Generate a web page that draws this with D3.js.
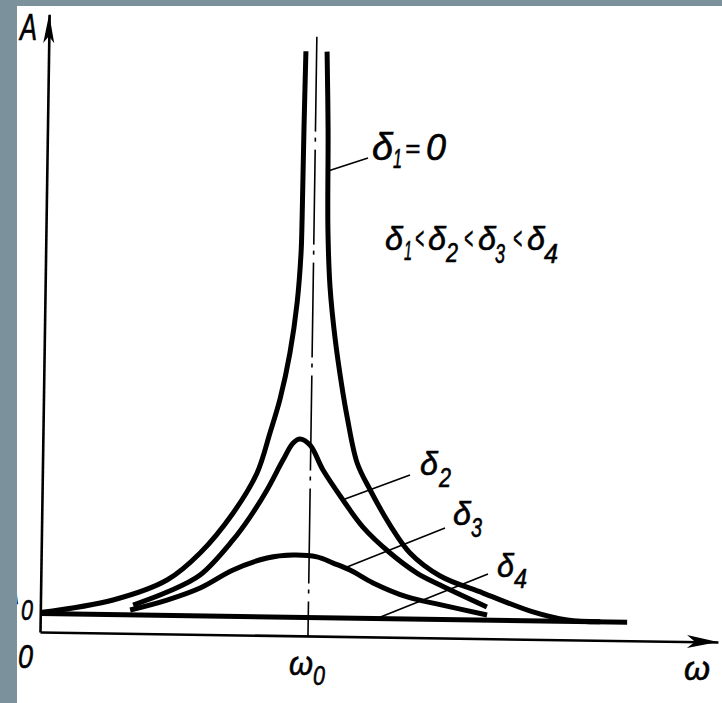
<!DOCTYPE html>
<html lang="en">
<head>
<meta charset="utf-8">
<title>Resonance curves</title>
<script src="https://d3js.org/d3.v7.min.js"></script>
<style>
  html, body { margin: 0; padding: 0; background: #fff; }
  svg { display: block; }
  text { font-family: "Liberation Sans", Arial, sans-serif; font-style: italic; fill: #000; stroke: #000; stroke-width: 0.6; }
</style>
</head>
<body>
<div id="viz"></div>
<script>
// omega in units of omega0, A in units of A0
const delta1Left = [[0, 1.05], [0.271, 1.79], [0.471, 2.91], [0.593, 4.40], [0.714, 6.59], [0.801, 8.77],
  [0.847, 10.94], [0.883, 12.8], [0.917, 15.28], [0.941, 17.99], [0.953, 20.7], [0.955, 22.5],
  [0.957, 27.35], [0.960, 31.6]];
const delta1Right = [[1.039, 31.6], [1.047, 27.4], [1.052, 21.96], [1.063, 18.88], [1.084, 16.18],
  [1.113, 13.49], [1.134, 11.87], [1.174, 9.39], [1.224, 7.94], [1.300, 6.06], [1.376, 4.57],
  [1.490, 3.35], [1.651, 2.46], [1.838, 1.48], [1.966, 1.07], [2.09, 1.0]];
const delta2 = [[0.346, 1.53], [0.472, 2.26], [0.594, 3.21], [0.715, 5.13], [0.777, 6.38], [0.839, 7.86],
  [0.897, 9.49], [0.934, 10.42], [0.959, 10.64], [0.997, 10.32], [1.047, 8.98], [1.123, 7.38],
  [1.199, 5.93], [1.302, 4.55], [1.403, 3.49], [1.490, 2.86], [1.666, 1.71]];
const delta3 = [[0.335, 1.26], [0.472, 1.83], [0.595, 2.51], [0.717, 3.51], [0.843, 4.18], [0.940, 4.36],
  [1.029, 4.28], [1.090, 3.96], [1.153, 3.60], [1.240, 2.92], [1.368, 2.19], [1.491, 1.80], [1.667, 1.28]];
const delta4 = [[0, 1], [2.19, 1]];
const omega0 = 1;
const omegaMax = 2.53;
const aMax = 33.4;

const width = 722, height = 703;
const svg = d3.select("#viz").append("svg")
  .attr("width", width).attr("height", height);

svg.append("rect").attr("width", width).attr("height", height).attr("fill", "#fff");

const x = d3.scaleLinear().domain([0, omegaMax]).range([0, omegaMax * 268]);
const y = d3.scaleLinear().domain([0, aMax]).range([0, -aMax * 18.5]);

// the scan is turned slightly, so the plot group is too
const g = svg.append("g").attr("transform", "translate(40,632) rotate(0.85)");

// axes (no ticks)
g.append("g").attr("class", "x axis")
  .call(d3.axisBottom(x).tickValues([]).tickSizeOuter(0))
  .select(".domain").attr("stroke", "#000").attr("stroke-width", 2.6);
g.append("g").attr("class", "y axis")
  .call(d3.axisLeft(y).tickValues([]).tickSizeOuter(0))
  .select(".domain").attr("stroke", "#000").attr("stroke-width", 2.6);

// arrowheads
const xt = x(omegaMax), yt = y(aMax);
g.append("path")
  .attr("d", `M${xt},0 L${xt - 31},-6.5 L${xt - 23},0 L${xt - 31},6.5 Z`)
  .attr("fill", "#000");
g.append("path")
  .attr("d", `M0,${yt} L-5.5,${yt + 29} L0,${yt + 22} L5.5,${yt + 29} Z`)
  .attr("fill", "#000");

// dash-dot line at omega0
g.append("path")
  .attr("d", d3.line().x(d => x(d[0])).y(d => y(d[1]))([[omega0, 32.4], [omega0, 0]]))
  .attr("fill", "none").attr("stroke", "#000").attr("stroke-width", 1.6)
  .attr("stroke-dasharray", "95,6,4,8");

const line = d3.line()
  .x(d => x(d[0]))
  .y(d => y(d[1]))
  .curve(d3.curveCatmullRom.alpha(0.5));

g.selectAll("path.curve")
  .data([delta4, delta1Left, delta1Right, delta2, delta3])
  .enter().append("path")
  .attr("class", "curve")
  .attr("d", line)
  .attr("fill", "none")
  .attr("stroke", "#000")
  .attr("stroke-width", 5)
  .attr("stroke-linecap", "butt")
  .attr("stroke-linejoin", "round");

// leader lines
const leaders = [[328, 171, 368, 158], [345, 499, 410, 475], [347, 567, 445, 528], [378, 618, 488, 574]];
svg.selectAll("line.leader").data(leaders).enter().append("line")
  .attr("class", "leader")
  .attr("x1", d => d[0]).attr("y1", d => d[1])
  .attr("x2", d => d[2]).attr("y2", d => d[3])
  .attr("stroke", "#000").attr("stroke-width", 1.6);

function label(px, py, s, size, w) {
  svg.append("text")
    .attr("x", px).attr("y", py)
    .attr("font-size", size)
    .attr("textLength", w)
    .attr("lengthAdjust", "spacingAndGlyphs")
    .text(s);
}

label(20, 40, "A", 36, 17);
label(3, 604, "A", 36, 16);
label(21, 620, "0", 30, 12);
label(18, 668, "0", 34, 15);
label(289, 675, "ω", 33, 24);
label(313, 685, "0", 27, 12);
label(684, 680, "ω", 33, 26);

// δ1 = 0
label(372, 160, "δ", 38, 21);
label(393, 168, "1", 27, 9);
label(405, 157, "=", 26, 15);
label(426, 160, "0", 37, 20);

// δ1 < δ2 < δ3 < δ4
label(385, 250, "δ", 34, 18);
label(404, 260, "1", 27, 8);
label(415, 249, "<", 32, 9);
label(428, 250, "δ", 34, 18);
label(446, 262, "2", 27, 12);
label(464, 249, "<", 32, 9);
label(478, 250, "δ", 34, 18);
label(495, 263, "3", 27, 10);
label(513, 249, "<", 32, 9);
label(527, 250, "δ", 34, 18);
label(544, 263, "4", 27, 14);

// curve labels
label(420, 475, "δ", 34, 18);
label(439, 487, "2", 27, 12);
label(453, 525, "δ", 34, 18);
label(471, 537, "3", 27, 11);
label(497, 577, "δ", 34, 17);
label(514, 588, "4", 27, 13);

// grey frame of the slide
svg.append("rect").attr("x", 0).attr("y", 0).attr("width", 17).attr("height", height).attr("fill", "#7b919c");
svg.append("rect").attr("x", 0).attr("y", 0).attr("width", width).attr("height", 6).attr("fill", "#7b919c");
</script>
</body>
</html>
